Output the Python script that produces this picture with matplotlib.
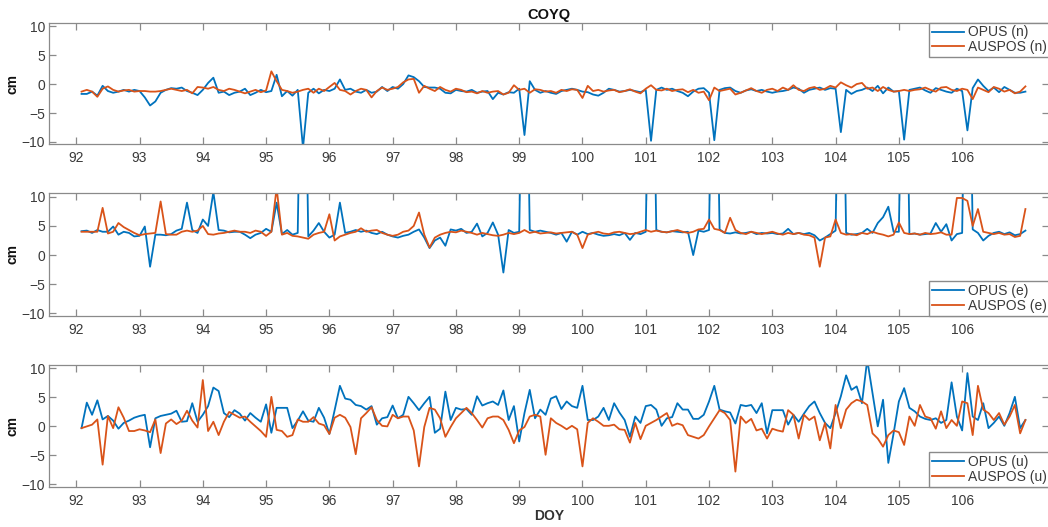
import numpy as np
import matplotlib
matplotlib.use('Agg')
import matplotlib.pyplot as plt

# 字体设置（Arial 风格）
plt.rcParams['font.family'] = ['Liberation Sans', 'DejaVu Sans']

# 时间轴：DOY 92-107，每 2 小时一个解（每天 12 个）
doy = 92 + np.arange(1, 181) / 12

# ====================== 北向分量 n (cm) ======================
opus_n = [
    -1.7, -1.7, -1.3, -2.0, -0.3, -1.2, -1.5, -1.3, -1.0, -1.3, -1.0, -1.2,
    -2.3, -3.7, -3.0, -1.5, -1.0, -0.7, -0.8, -0.6, -1.2, -1.5, -1.9, -1.0,
    0.2, 1.1, -1.5, -1.3, -1.9, -1.5, -1.3, -0.8, -1.9, -1.5, -1.0, -1.4,
    -1.2, 1.6, -2.1, -1.2, -2.0, -1.0, -11.0, -1.5, -0.8, -1.6, -1.0, -1.2,
    -0.8, 0.8, -1.0, -0.8, -1.3, -1.5, -1.0, -1.5, -1.3, -0.5, -1.2, -0.5,
    -0.8, 0.0, 1.5, 1.2, 0.5, -0.5, -0.6, -0.6, -0.8, -1.5, -1.6, -1.0,
    -1.2, -1.3, -1.0, -1.5, -1.3, -1.2, -2.6, -1.5, -1.8, -1.4, -1.5, -0.8,
    -8.8, 0.5, -1.0, -1.5, -1.2, -1.5, -1.7, -1.2, -1.0, -0.8, -1.0, -1.3,
    -1.4, -1.8, -2.0, -1.5, -0.8, -1.0, -1.3, -1.2, -1.0, -1.2, -1.4, -1.0,
    -9.8, -1.0, -0.6, -1.0, -0.8, -1.2, -1.5, -2.1, -1.3, -0.8, -0.7, -1.5,
    -9.7, -1.0, -0.7, -0.6, -1.2, -1.5, -1.1, -0.9, -1.2, -1.0, -1.3, -1.5,
    -1.3, -1.2, -1.0, -0.6, -0.8, -1.5, -1.0, -0.8, -0.6, -1.0, -0.7, -0.8,
    -8.3, -1.0, -1.7, -1.2, -1.0, -0.6, -1.2, -0.3, -1.6, -0.6, -1.3, -1.2,
    -9.6, -1.0, -0.8, -0.6, -1.1, -1.5, -0.7, -1.0, -1.3, -1.5, -0.8, -1.2,
    -8.0, -0.7, 0.8, -0.3, -1.2, -0.6, -1.4, -0.5, -1.0, -1.5, -1.5, -1.3,
]
auspos_n = [
    -1.3, -1.0, -1.3, -2.2, -0.8, -0.4, -1.0, -1.3, -1.1, -1.0, -1.3, -1.2,
    -1.2, -1.3, -1.3, -1.2, -1.0, -0.8, -1.0, -1.2, -1.0, -1.6, -0.5, -0.6,
    -0.8, -0.5, -1.0, -1.2, -0.8, -1.0, -1.3, -1.6, -1.3, -1.0, -1.4, -1.1,
    2.2, 0.5, -1.0, -1.2, -1.5, -1.3, -1.0, -0.8, -1.5, -0.8, -1.2, -0.5,
    0.2, -1.0, -1.2, -1.8, -1.2, -0.8, -1.0, -2.3, -1.2, -0.6, -1.0, -0.8,
    -0.5, 0.3, 0.8, 0.9, -1.5, -0.3, -0.8, -1.2, -0.5, -1.0, -1.3, -0.8,
    -1.0, -1.4, -1.3, -1.6, -1.2, -1.5, -1.3, -1.2, -1.8, -1.5, -0.2, -1.0,
    -0.8, -1.5, -0.9, -1.0, -1.3, -1.2, -1.5, -1.0, -1.2, -0.9, -1.0, -2.4,
    -0.3, -1.2, -1.0, -1.3, -1.1, -1.0, -1.4, -1.2, -0.9, -1.3, -1.6, -0.8,
    -0.2, -1.0, -1.1, -0.8, -1.2, -1.0, -0.9, -1.4, -1.0, -1.5, -1.3, -2.8,
    -0.6, -1.2, -1.0, -0.8, -1.8, -1.5, -1.1, -0.7, -1.2, -1.5, -1.0, -0.8,
    -1.2, -0.6, -1.0, -0.2, -1.0, -1.2, -0.7, -0.5, -1.0, -0.8, -0.3, -0.6,
    0.3, -0.2, -0.6, 0.0, 0.2, -0.8, -0.6, -1.2, -0.5, -1.0, -1.3, -1.2,
    -1.0, -1.2, -1.0, -0.9, -0.6, -1.0, -1.3, -0.6, -0.5, -1.0, -1.2, -0.8,
    -1.0, -2.6, -0.6, -1.0, -1.4, -0.5, -0.8, -1.3, -1.0, -1.6, -1.3, -0.4,
]

# ====================== 东向分量 e (cm) ======================
opus_e = [
    4.1, 4.2, 3.8, 4.3, 4.0, 4.0, 4.9, 3.5, 4.0, 3.8, 3.2, 3.3,
    4.9, -2.0, 3.5, 3.5, 3.4, 3.6, 4.2, 4.5, 9.0, 4.3, 3.8, 6.1,
    5.0, 10.8, 4.3, 4.2, 3.9, 4.0, 4.0, 3.5, 2.9, 3.5, 3.8, 4.5,
    4.0, 9.0, 3.6, 4.3, 3.5, 3.8, 60.0, 3.2, 4.2, 5.5, 4.0, 3.0,
    3.5, 9.0, 3.8, 4.0, 4.3, 4.0, 4.2, 3.8, 3.6, 4.0, 3.5, 3.2,
    3.0, 3.3, 3.5, 4.0, 4.4, 3.0, 1.2, 2.5, 3.0, 1.6, 4.4, 4.2,
    4.5, 3.8, 4.0, 5.4, 3.2, 3.8, 5.6, 3.5, -3.0, 4.3, 3.8, 4.0,
    60.0, 4.3, 4.0, 4.2, 4.0, 3.8, 3.5, 3.8, 2.3, 4.0, 3.5, 4.0,
    3.6, 3.8, 3.5, 3.3, 3.4, 3.6, 3.4, 3.8, 2.6, 3.8, 3.6, 4.0,
    60.0, 4.3, 4.0, 3.9, 4.1, 4.0, 3.9, 4.0, 0.0, 4.2, 4.0, 4.3,
    60.0, 4.4, 3.8, 3.7, 3.9, 3.7, 3.8, 4.0, 3.6, 3.8, 3.7, 3.8,
    3.6, 3.7, 4.5, 3.6, 3.8, 3.6, 3.8, 3.4, 2.5, 3.0, 3.6, 4.2,
    60.0, 3.8, 3.5, 3.6, 3.8, 4.5, 3.8, 5.5, 6.5, 8.3, 4.0, 4.0,
    60.0, 3.6, 3.7, 3.5, 3.6, 3.7, 5.5, 4.0, 5.3, 2.5, 3.6, 3.8,
    60.0, 4.4, 3.8, 2.5, 3.3, 3.8, 4.0, 3.6, 3.9, 3.4, 3.6, 4.2,
]
auspos_e = [
    4.0, 4.0, 4.0, 4.0, 8.1, 3.7, 4.0, 5.5, 4.8, 4.3, 3.8, 3.4,
    3.6, 3.7, 3.8, 9.2, 3.6, 3.5, 3.5, 4.0, 4.2, 4.0, 4.2, 5.0,
    3.6, 3.5, 3.7, 3.8, 4.0, 4.2, 4.0, 4.0, 3.8, 4.2, 4.0, 3.3,
    4.0, 11.5, 3.5, 3.8, 3.3, 3.2, 3.0, 2.8, 3.5, 3.8, 4.0, 7.0,
    2.5, 3.2, 3.5, 3.8, 4.0, 4.6, 4.0, 4.2, 4.3, 3.8, 3.5, 3.3,
    3.5, 4.0, 4.2, 5.0, 7.3, 3.5, 1.3, 3.0, 3.5, 3.8, 4.0, 3.9,
    4.2, 4.0, 3.8, 3.5, 3.8, 3.6, 3.4, 3.3, 3.5, 3.8, 3.6, 3.8,
    4.3, 3.8, 4.0, 3.7, 3.8, 3.9, 3.7, 3.8, 3.9, 4.0, 3.5, 1.2,
    3.5, 3.8, 4.0, 3.7, 3.6, 3.9, 4.0, 3.8, 3.6, 3.7, 4.0, 4.3,
    4.0, 4.2, 4.0, 3.9, 4.1, 4.3, 4.0, 3.8, 4.0, 4.4, 4.5, 6.1,
    4.5, 4.3, 3.8, 6.4, 4.3, 3.8, 3.6, 4.0, 3.8, 3.6, 3.8, 4.0,
    3.7, 3.5, 3.8, 3.6, 3.8, 3.5, 3.4, 3.0, -2.0, 3.0, 3.2, 6.1,
    3.8, 3.5, 3.6, 3.4, 3.8, 3.6, 4.0, 3.7, 3.5, 3.2, 3.5, 5.6,
    3.8, 3.6, 3.7, 3.5, 3.8, 3.6, 3.7, 3.9, 3.5, 3.5, 9.8, 9.8,
    9.3, 5.0, 7.9, 4.0, 3.8, 3.6, 3.8, 3.5, 3.6, 3.1, 3.3, 7.9,
]

# ====================== 天顶分量 u (cm) ======================
opus_u = [
    -0.3, 4.1, 2.0, 4.5, 1.2, 1.8, 1.0, -0.4, 0.6, 1.0, 1.5, 1.8,
    2.0, -3.6, 1.4, 1.8, 2.0, 2.2, 2.7, 0.8, 0.9, 4.0, 0.8, 2.0,
    3.5, 6.7, 6.1, 2.3, 1.6, 2.8, 2.2, 1.0, 2.3, 1.5, 0.8, 3.8,
    -1.1, 3.2, 3.2, 3.2, -0.3, 1.0, 2.6, 1.0, 0.8, 3.2, 1.5, -1.3,
    2.8, 7.0, 4.8, 4.6, 3.7, 3.5, 2.9, 3.5, 0.3, 1.4, 1.6, 3.6,
    1.4, 2.0, 5.1, 4.0, 2.8, 4.0, 5.1, -1.1, -0.4, 6.0, 1.1, 3.2,
    2.9, 3.0, 2.0, 5.2, 3.6, 4.0, 4.3, 3.7, 6.2, 1.1, 3.5, -2.6,
    2.3, 6.3, 1.4, 2.9, 2.0, 4.8, 5.2, 3.0, 4.3, 3.5, 3.2, 7.0,
    1.1, 1.1, 1.7, 3.2, 1.1, 4.0, 2.4, 1.1, -1.8, 1.7, 0.6, 3.5,
    3.7, 2.9, 0.1, 1.4, 1.6, 4.0, 2.9, 2.9, 1.3, 1.3, 2.0, 4.3,
    7.0, 2.9, 2.6, 2.4, 0.5, 3.7, 3.5, 3.7, 2.3, 4.0, -1.2, 2.8,
    2.8, 2.8, 0.3, 2.0, 0.8, 2.2, 3.5, 4.3, 2.3, 0.6, -0.3, 2.3,
    5.2, 8.8, 6.3, 6.9, 4.0, 11.5, 5.8, 0.0, 4.6, -6.3, -1.2, 4.3,
    6.6, 3.2, 2.6, 1.7, 1.3, 1.1, 1.4, 0.6, 1.1, 7.6, 1.7, -0.7,
    9.2, 1.7, 1.1, 4.0, -0.3, 0.6, 1.7, 0.1, 2.3, 5.1, -0.3, 1.1,
]
auspos_u = [
    -0.3, 0.0, 0.3, 1.2, -6.6, 1.8, -0.3, 3.3, 1.5, -0.8, -0.8, -0.5,
    -0.7, -1.0, 1.2, -4.6, 0.5, 1.2, 0.4, 1.0, 2.7, 1.0, -0.2, 8.0,
    -0.8, 0.8, -1.5, 0.8, 2.5, 2.0, 1.5, 1.7, 0.8, 0.0, -0.8, -1.8,
    5.1, -0.6, -0.8, -1.8, -1.5, 1.2, 0.8, 0.8, 1.6, 0.5, 0.2, -1.3,
    1.5, 2.0, 1.5, -0.1, -4.8, 1.4, 2.3, 3.3, 1.1, 0.1, 0.0, 2.0,
    1.4, 1.7, 1.7, -0.7, -6.9, -0.1, 3.2, 2.9, 1.4, -1.8, -0.1, 1.4,
    2.3, 3.2, 2.3, 1.1, -0.2, 1.4, 1.7, 1.7, 1.1, -0.6, -2.9, -0.7,
    -0.1, 1.7, 2.0, 1.7, -4.9, 1.4, 0.6, 0.1, -0.5, 0.1, -0.5, -6.9,
    0.6, 1.4, 0.8, 0.1, 0.1, 0.3, -0.5, -0.6, -2.8, 0.6, -2.2, 0.1,
    0.6, 1.1, 1.7, 2.3, 0.1, 0.5, 0.2, -1.5, -1.8, -2.1, -1.5, 0.0,
    1.4, 2.8, 2.3, 1.1, -7.8, 1.7, 0.6, 1.3, -0.7, -0.4, -2.1, -0.4,
    -0.7, -0.9, 2.8, 2.0, -2.1, 2.0, 1.1, 1.7, -2.4, 0.6, -3.8, 3.7,
    -0.3, 2.9, 4.0, 4.6, 4.3, 3.7, -1.2, -2.1, -3.5, -1.5, -0.7, -1.0,
    -3.2, 1.7, 0.1, 3.7, 1.7, 1.4, -0.4, 2.6, -0.3, 1.1, 0.1, 4.3,
    4.0, -1.5, 7.0, 2.9, 2.3, 1.1, 2.3, 0.3, 1.7, 3.7, -1.2, 1.1,
]

components = ['n', 'e', 'u']
legend_locs = ['upper right', 'lower right', 'lower right']

# ====================== 绘图 ======================
fig = plt.figure(figsize=(10.48, 5.27), dpi=100)

# 三个子图位置（MATLAB 风格布局）
rects = [
    [0.0468, 0.7262, 0.9546, 0.2307],
    [0.0468, 0.4010, 0.9546, 0.2322],
    [0.0468, 0.0765, 0.9546, 0.2310],
]
series = [(opus_n, auspos_n), (opus_e, auspos_e), (opus_u, auspos_u)]

axes_color = '#8a8a8a'
text_color = '#3a3a3a'

for i, (rect, (opus, auspos), comp, loc) in enumerate(zip(rects, series, components, legend_locs)):
    ax = fig.add_axes(rect)
    ax.plot(doy, opus, color='#0072BD', lw=1.3, label=f'OPUS ({comp})')
    ax.plot(doy, auspos, color='#D95319', lw=1.3, label=f'AUSPOS ({comp})')

    ax.set_xlim(91.57, 107.38)
    ax.set_ylim(-10.4, 10.6)
    ax.set_xticks(range(92, 107))
    ax.set_yticks([-10, -5, 0, 5, 10])
    ax.tick_params(direction='in', top=True, right=True, length=5, width=0.9,
                   color=axes_color, labelcolor=text_color, labelsize=10)
    ax.tick_params(axis='x', pad=5)
    ax.tick_params(axis='y', pad=3)
    for sp in ax.spines.values():
        sp.set_color(axes_color)
        sp.set_linewidth(0.9)

    ax.set_ylabel('cm', fontweight='bold', fontsize=10, labelpad=1, color='#111111')

    leg = ax.legend(loc=loc, borderaxespad=0, fontsize=10, handlelength=2.3,
                    handletextpad=0.3, borderpad=0.2, labelspacing=0.05,
                    fancybox=False, framealpha=1, edgecolor=axes_color)
    for t in leg.get_texts():
        t.set_color(text_color)

    if i == 0:
        ax.set_title('COYQ', fontweight='bold', fontsize=10.5, pad=3, color='#111111')
    if i == 2:
        ax.set_xlabel('DOY', fontweight='bold', fontsize=10, labelpad=1, color='#333333')

plt.savefig('out.png', dpi=100)
